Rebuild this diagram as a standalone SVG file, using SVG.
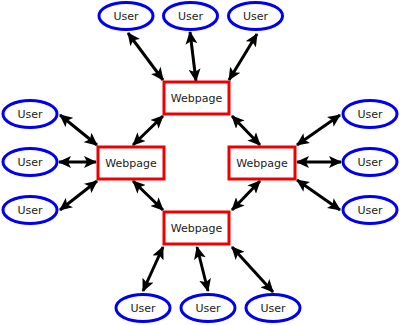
<svg xmlns="http://www.w3.org/2000/svg" width="400" height="325" viewBox="0 0 400 325">
<defs>
<marker id="ah" viewBox="0 0 13 12" markerWidth="13" markerHeight="12" refX="12" refY="6" orient="auto-start-reverse" markerUnits="userSpaceOnUse">
<path d="M0,0 L13,6 L0,12 L3,6 z" fill="#000"/>
</marker>
<style>
.u ellipse{fill:#fff;stroke:#0000ee;stroke-width:3}
.w rect{fill:#fff;stroke:#ee0000;stroke-width:3}
text{font-family:"DejaVu Sans",sans-serif;font-size:11px;fill:#222;text-anchor:middle;dominant-baseline:central}
#edges line{stroke:#000;stroke-width:3;marker-start:url(#ah);marker-end:url(#ah)}
</style>
</defs>
<rect width="400" height="325" fill="#fff"/>
<g id="edges">
<line x1="128" y1="33" x2="163" y2="80"/>
<line x1="190" y1="32" x2="196" y2="81"/>
<line x1="257" y1="34" x2="229" y2="80"/>
<line x1="60" y1="115" x2="97" y2="145"/>
<line x1="59" y1="162" x2="96" y2="162"/>
<line x1="60" y1="210" x2="97" y2="181"/>
<line x1="133" y1="145" x2="163" y2="116"/>
<line x1="133" y1="181" x2="163" y2="210"/>
<line x1="232" y1="116" x2="260" y2="145"/>
<line x1="260" y1="181" x2="232" y2="210"/>
<line x1="297" y1="145" x2="340" y2="115"/>
<line x1="297" y1="162" x2="341" y2="162"/>
<line x1="297" y1="180" x2="340" y2="210"/>
<line x1="163" y1="247" x2="143" y2="291"/>
<line x1="197" y1="247" x2="208" y2="291"/>
<line x1="232" y1="247" x2="273" y2="292"/>
</g>
<g id="web-top" class="w"><rect x="164" y="82" width="65" height="32"/><text x="196.5" y="98">Webpage</text></g>
<g id="web-left" class="w"><rect x="98" y="147" width="66" height="32"/><text x="131" y="163">Webpage</text></g>
<g id="web-right" class="w"><rect x="229" y="147" width="66" height="32"/><text x="262" y="163">Webpage</text></g>
<g id="web-bottom" class="w"><rect x="164" y="212" width="65" height="32"/><text x="196.5" y="228">Webpage</text></g>
<g id="user-t1" class="u"><ellipse cx="126" cy="16" rx="27" ry="13.5"/><text x="126" y="16">User</text></g>
<g id="user-t2" class="u"><ellipse cx="190.5" cy="16" rx="27" ry="13.5"/><text x="190.5" y="16">User</text></g>
<g id="user-t3" class="u"><ellipse cx="255.5" cy="16" rx="27" ry="13.5"/><text x="255.5" y="16">User</text></g>
<g id="user-l1" class="u"><ellipse cx="30" cy="114" rx="27" ry="13.5"/><text x="30" y="114">User</text></g>
<g id="user-l2" class="u"><ellipse cx="30" cy="162" rx="27" ry="13.5"/><text x="30" y="162">User</text></g>
<g id="user-l3" class="u"><ellipse cx="30" cy="210" rx="27" ry="13.5"/><text x="30" y="210">User</text></g>
<g id="user-r1" class="u"><ellipse cx="370" cy="114" rx="27" ry="13.5"/><text x="370" y="114">User</text></g>
<g id="user-r2" class="u"><ellipse cx="370" cy="162" rx="27" ry="13.5"/><text x="370" y="162">User</text></g>
<g id="user-r3" class="u"><ellipse cx="370" cy="210" rx="27" ry="13.5"/><text x="370" y="210">User</text></g>
<g id="user-b1" class="u"><ellipse cx="143" cy="308" rx="27" ry="13.5"/><text x="143" y="308">User</text></g>
<g id="user-b2" class="u"><ellipse cx="208" cy="308" rx="27" ry="13.5"/><text x="208" y="308">User</text></g>
<g id="user-b3" class="u"><ellipse cx="273" cy="308" rx="27" ry="13.5"/><text x="273" y="308">User</text></g>
</svg>
